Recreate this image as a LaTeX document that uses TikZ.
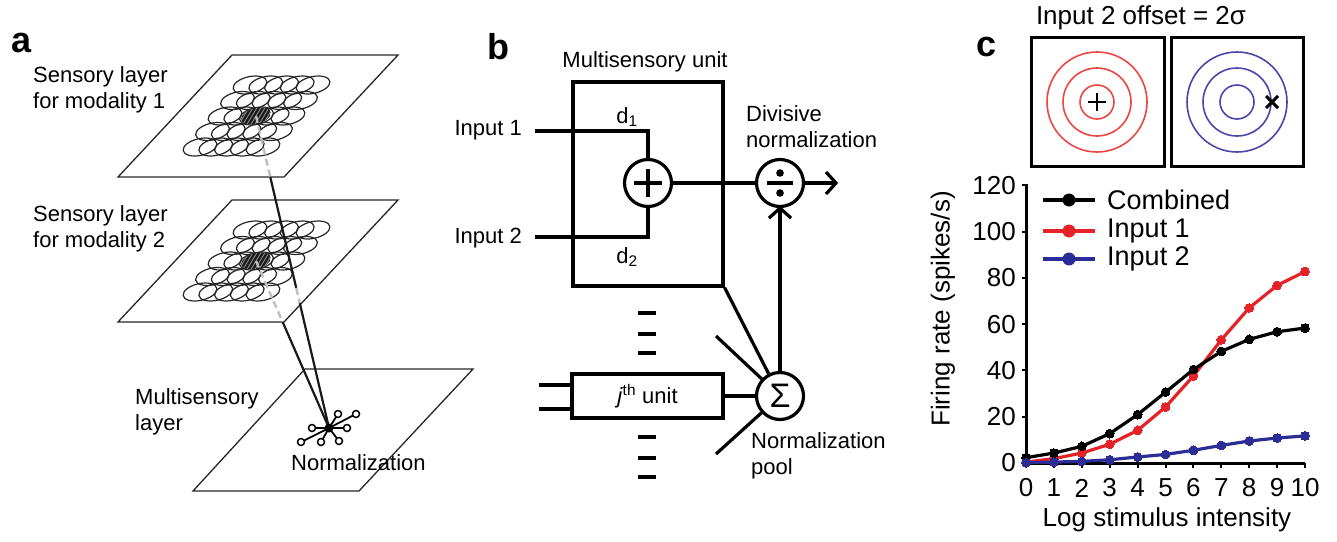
\documentclass[tikz,border=0pt]{standalone}
\usepackage{fontspec}
\setmainfont{Liberation Sans}
\usetikzlibrary{calc}
\definecolor{redA}{RGB}{228,34,40}
\definecolor{blueA}{RGB}{44,44,150}
\definecolor{redC}{RGB}{236,70,66}
\definecolor{blueC}{RGB}{76,70,170}

\begin{document}
\begin{tikzpicture}[x=1pt, y=-1pt,
    every node/.style={font=\fontsize{22}{26}\selectfont, inner sep=0pt},
    panel/.style={font=\fontsize{36}{40}\selectfont\bfseries},
    sheet/.style={draw=black!85, line width=1.3pt},
    rf/.style={draw=black!85, line width=1.2pt},
    behind/.style={draw=black!25, line width=2.4pt, dash pattern=on 7pt off 4pt},
    proj/.style={draw=black!90, line width=2.2pt},
    wire/.style={line width=3.2pt},
    barb/.style={line width=3.2pt, miter limit=10},
    op/.style={circle, draw, line width=3.2pt, minimum size=47pt},
    unitbox/.style={draw, line width=3.2pt},
    ticklab/.style={font=\fontsize{26}{30}\selectfont},
    series/.style={line width=3.2pt, color=#1, mark=*, mark size=4.4pt,
      mark options={fill=#1, draw=#1, line width=0pt}}]
  \useasboundingbox (0,0) rectangle (1337,541);

  % ---------------- panel a ----------------
  \node[panel] (la) at (22,43) {a};
  % two sensory sheets, the second one 145 lower
  \foreach \dy/\nm in {0/one, 145/two} {
    \draw[sheet] (232,55+\dy) -- (398,55+\dy) -- (284,177+\dy) -- (118,177+\dy) -- cycle;
    % receptive fields
    \foreach \i in {0,...,4}
      \foreach \j in {0,...,4}
        \draw[rf, shift={(200+15.75*\i+12.5*\j, 147+\dy-15.5*\j)}, xslant=0.6]
          (0,0) ellipse (16pt and 9pt);
    % hatched field in the middle
    \coordinate (c\nm) at (256,116+\dy);
    \begin{scope}[shift={(c\nm)}, xslant=0.6]
      \clip (0,0) ellipse (14pt and 8.5pt);
      \fill[black!90] (0,0) ellipse (14pt and 8.5pt);
      \foreach \k in {-16,-12,...,16}
        \draw[black!45, line width=0.9pt] (\k,-9) -- (\k,9);
    \end{scope}
  }
  \node[align=left, anchor=west] (lab1) at (33,90) {Sensory layer\\for modality 1};
  \node[align=left, anchor=west] (lab2) at (33,229) {Sensory layer\\for modality 2};

  % multisensory sheet
  \draw[sheet] (305,369) -- (473,369) -- (359,491) -- (193,491) -- cycle;
  \node[align=left, anchor=west] (lab3) at (135,412) {Multisensory\\layer};
  \node[anchor=west] (norm) at (291,463) {Normalization};

  % projections to the normalization star
  \coordinate (star) at (329,428);
  \draw[behind] (cone) -- ($(cone)!0.196!(star)$);
  \draw[proj] ($(cone)!0.196!(star)$) -- ($(cone)!0.551!(star)$);
  \draw[behind] ($(cone)!0.551!(star)$) -- ($(cone)!0.6!(star)$);
  \draw[proj] ($(cone)!0.6!(star)$) -- (star);
  \draw[behind] (ctwo) -- ($(ctwo)!0.365!(star)$);
  \draw[proj] ($(ctwo)!0.365!(star)$) -- (star);

  % star of pooled units
  \foreach \ex/\ey in {338/414, 356/414, 347/428, 339/441, 321/442, 301/442, 312/428} {
    \draw[line width=1.8pt] (star) -- (\ex,\ey);
    \draw[line width=1.5pt, fill=white] (\ex,\ey) circle (3.5pt);
  }
  \fill (star) circle (4.5pt);

  % ---------------- panel b ----------------
  \node[panel] (lb) at (498,47) {b};
  \node (msu) at (645,62) {Multisensory unit};
  \node[unitbox, minimum width=150pt, minimum height=204pt] (unit) at (648,184) {};
  \node[op] (plus) at (648,183) {};
  \draw[line width=4.5pt] ($(plus)+(-14,0)$) -- ($(plus)+(14,0)$)
    ($(plus)+(0,-14)$) -- ($(plus)+(0,14)$);
  \node[op] (div) at (780,183) {};
  \draw[line width=4.5pt] ($(div)+(-13,0)$) -- ($(div)+(13,0)$);
  \fill ($(div)+(0,-10)$) circle (3.8pt) ($(div)+(0,10)$) circle (3.8pt);
  \node[op, font=\fontsize{34}{34}\selectfont] (sum) at (780,396) {Σ};

  % inputs
  \node[anchor=east] (tin1) at (522,130) {Input 1};
  \node[anchor=east] (tin2) at (522,238) {Input 2};
  \coordinate (in1) at (535,131);
  \coordinate (in2) at (535,237);
  \draw[wire] (in1) -| (plus.north);
  \draw[wire] (in2) -| (plus.south);
  \node (d1) at (627,117) {d\textsubscript{1}};
  \node (d2) at (627,257) {d\textsubscript{2}};

  % output
  \coordinate (out) at (836,183);
  \draw[wire] (plus) -- (div);
  \draw[wire] (div) -- (out);
  \draw[barb] ($(out)+(-10,-11)$) -- (out) -- ($(out)+(-10,11)$);
  \node[align=left, anchor=west] (divlab) at (746,127) {Divisive\\normalization};

  % pool
  \node[unitbox, minimum width=151pt, minimum height=44pt] (jth) at (647.5,396)
    {\textit{j}\textsuperscript{th} unit};
  \coordinate (ja) at (539,385);
  \coordinate (jb) at (539,409);
  \draw[wire] (ja) -- (jth.west |- ja);
  \draw[wire] (jb) -- (jth.west |- jb);
  \foreach \y in {313,334,353,437,458,477}
    \draw[wire] (638,\y) -- (656,\y);
  \coordinate (p1) at (716,336);
  \coordinate (p2) at (716,454);
  \draw[wire] (unit.south east) -- (sum);
  \draw[wire] (p1) -- (sum);
  \draw[wire] (jth) -- (sum);
  \draw[wire] (p2) -- (sum);
  \draw[wire] (sum) -- (div);
  \draw[barb] ($(div.south)+(-11,10)$) -- (div.south) -- ($(div.south)+(11,10)$);
  \node[align=left, anchor=west] (poollab) at (751,456) {Normalization\\pool};

  % ---------------- panel c ----------------
  \node[panel] (lc) at (986,47) {c};
  \node[font=\fontsize{26}{30}\selectfont] (ttl) at (1141,18) {Input 2 offset = 2σ};
  \draw[line width=3pt] (1031,37) rectangle (1164,166);
  \draw[line width=3pt] (1171,37) rectangle (1303,166);
  \foreach \r in {17,34,50} {
    \draw[redC, line width=1.6pt] (1097,102) circle (\r pt);
    \draw[blueC, line width=1.6pt] (1237,102) circle (\r pt);
  }
  \draw[line width=2.2pt] (1088,102) -- (1106,102) (1097,93) -- (1097,111);
  \draw[line width=3pt] (1266,96) -- (1278,108) (1266,108) -- (1278,96);

  % firing rate plot
  \begin{scope}[shift={(1026,463)}, x=27.9pt, y=2.315pt]
    \draw[line width=3pt] (0,120.5) -- (0,0) -- (10,0);
    \foreach \v in {0,20,...,120} {
      \draw[line width=2pt] (0,\v) -- ++(-4pt,0);
      \node[ticklab, anchor=east] (y\v) at ([xshift=-10pt]0,\v) {\v};
    }
    \foreach \k in {0,...,10} {
      \draw[line width=2pt] (\k,0) -- ++(0,-5pt);
      \node[ticklab] (x\k) at ([yshift=-25pt]\k,0) {\k};
    }
    \draw[series=redA] plot coordinates {(0,0.4) (1,1.9) (2,4.3) (3,8.1) (4,14.1)
      (5,24.2) (6,37.6) (7,53.2) (8,67) (9,76.7) (10,82.7)};
    \draw[series=black] plot coordinates {(0,2.3) (1,4.3) (2,7.2) (3,12.7) (4,20.9)
      (5,30.6) (6,40.4) (7,48.2) (8,53.4) (9,56.7) (10,58.3)};
    \draw[series=blueA] plot coordinates {(0,0.1) (1,0.4) (2,0.7) (3,1.4) (4,2.6)
      (5,3.7) (6,5.5) (7,7.6) (8,9.5) (9,10.8) (10,11.7)};
  \end{scope}
  \node[font=\fontsize{26}{30}\selectfont] (xlab) at (1167,520) {Log stimulus intensity};
  \node[font=\fontsize{26}{30}\selectfont, rotate=90] (ylab) at (943,309) {Firing rate (spikes/s)};

  % legend
  \foreach \y/\col/\txt in {200/black/Combined, 231/redA/Input 1, 259/blueA/Input 2} {
    \draw[\col, line width=3.2pt] (1043,\y) -- (1095,\y);
    \fill[\col] (1069,\y) circle (6.5pt);
    \node[font=\fontsize{27}{30}\selectfont, anchor=west] at (1107,\y) {\txt};
  }
\end{tikzpicture}
\end{document}
